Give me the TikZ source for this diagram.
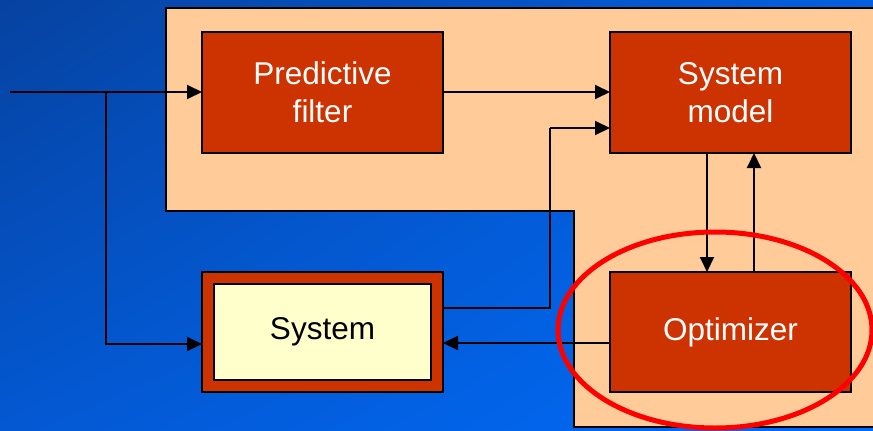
\documentclass[tikz,border=0pt]{standalone}
\usepackage{fontspec}
\setmainfont{Liberation Sans}
\usetikzlibrary{arrows.meta,calc,shadings}

\definecolor{bgTL}{HTML}{0642A0}
\definecolor{bgTR}{HTML}{0460E0}
\definecolor{bgBL}{HTML}{0458D2}
\definecolor{bgBR}{HTML}{006CFA}
\definecolor{peach}{HTML}{FFCC99}
\definecolor{brick}{HTML}{CC3300}
\definecolor{cream}{HTML}{FFFFCC}
\definecolor{ring}{HTML}{FF0000}

\tikzset{
  blockbox/.style={draw=black, line width=2pt, fill=brick, text=white,
    minimum width=241pt, minimum height=121pt, outer sep=0pt,
    align=center, font=\fontsize{31.5}{38}\selectfont},
  innerbox/.style={draw=black, line width=2pt, fill=cream, text=black,
    minimum width=217pt, minimum height=96pt, outer sep=0pt,
    font=\fontsize{31.5}{38}\selectfont},
  flow/.style={draw=black, line width=2pt,
    -{Triangle[length=15pt,width=14pt]}},
  wire/.style={draw=black, line width=2pt},
}

\begin{document}
\begin{tikzpicture}[x=1pt,y=-1pt]
  \useasboundingbox (0,0) rectangle (873,431);
  \clip (0,0) rectangle (873,431);

  % blue backdrop
  \shade[upper left=bgTL, upper right=bgTR, lower left=bgBL, lower right=bgBR]
    (0,0) rectangle (873,431);

  % peach L-shaped panel
  \draw[fill=peach, line width=2pt]
    (166,8) -- (890,8) -- (890,427) -- (574,427) -- (574,211) -- (166,211) -- cycle;

  % blocks
  \node[blockbox] (pf) at (322.5,92.5) {Predictive\\filter};
  \node[blockbox] (sm) at (730.5,92.5) {System\\model};
  \node[blockbox, minimum height=120pt] (opt) at (730.5,332) {Optimizer};
  \node[blockbox, minimum height=120pt] (sys) at (322.5,332) {};
  \node[innerbox] (sysin) at (sys.center) {System};

  % connectors
  \coordinate (in) at (10,92);
  \coordinate (br) at (106,92);
  \coordinate (jn) at (550,128);

  \draw[flow] (in) -- (in -| pf.west);
  \draw[flow] (br) |- ($(sys.west)+(0,12)$);
  \draw[flow] (pf.east |- in) -- (sm.west |- in);
  \draw[wire] ($(sys.east)+(0,-24)$) -| (jn);
  \draw[flow] (jn) -- (jn -| sm.west);
  \draw[flow] ($(sm.south)+(-23.5,0)$) -- ($(opt.north)+(-23.5,0)$);
  \draw[flow] ($(opt.north)+(23.5,0)$) -- ($(sm.south)+(23.5,0)$);
  \draw[flow] ($(opt.west)+(0,11)$) -- ($(sys.east)+(0,11)$);

  % highlight ring round the optimizer
  \draw[ring, line width=5pt] (715,330) ellipse [x radius=157, y radius=98];
\end{tikzpicture}
\end{document}
